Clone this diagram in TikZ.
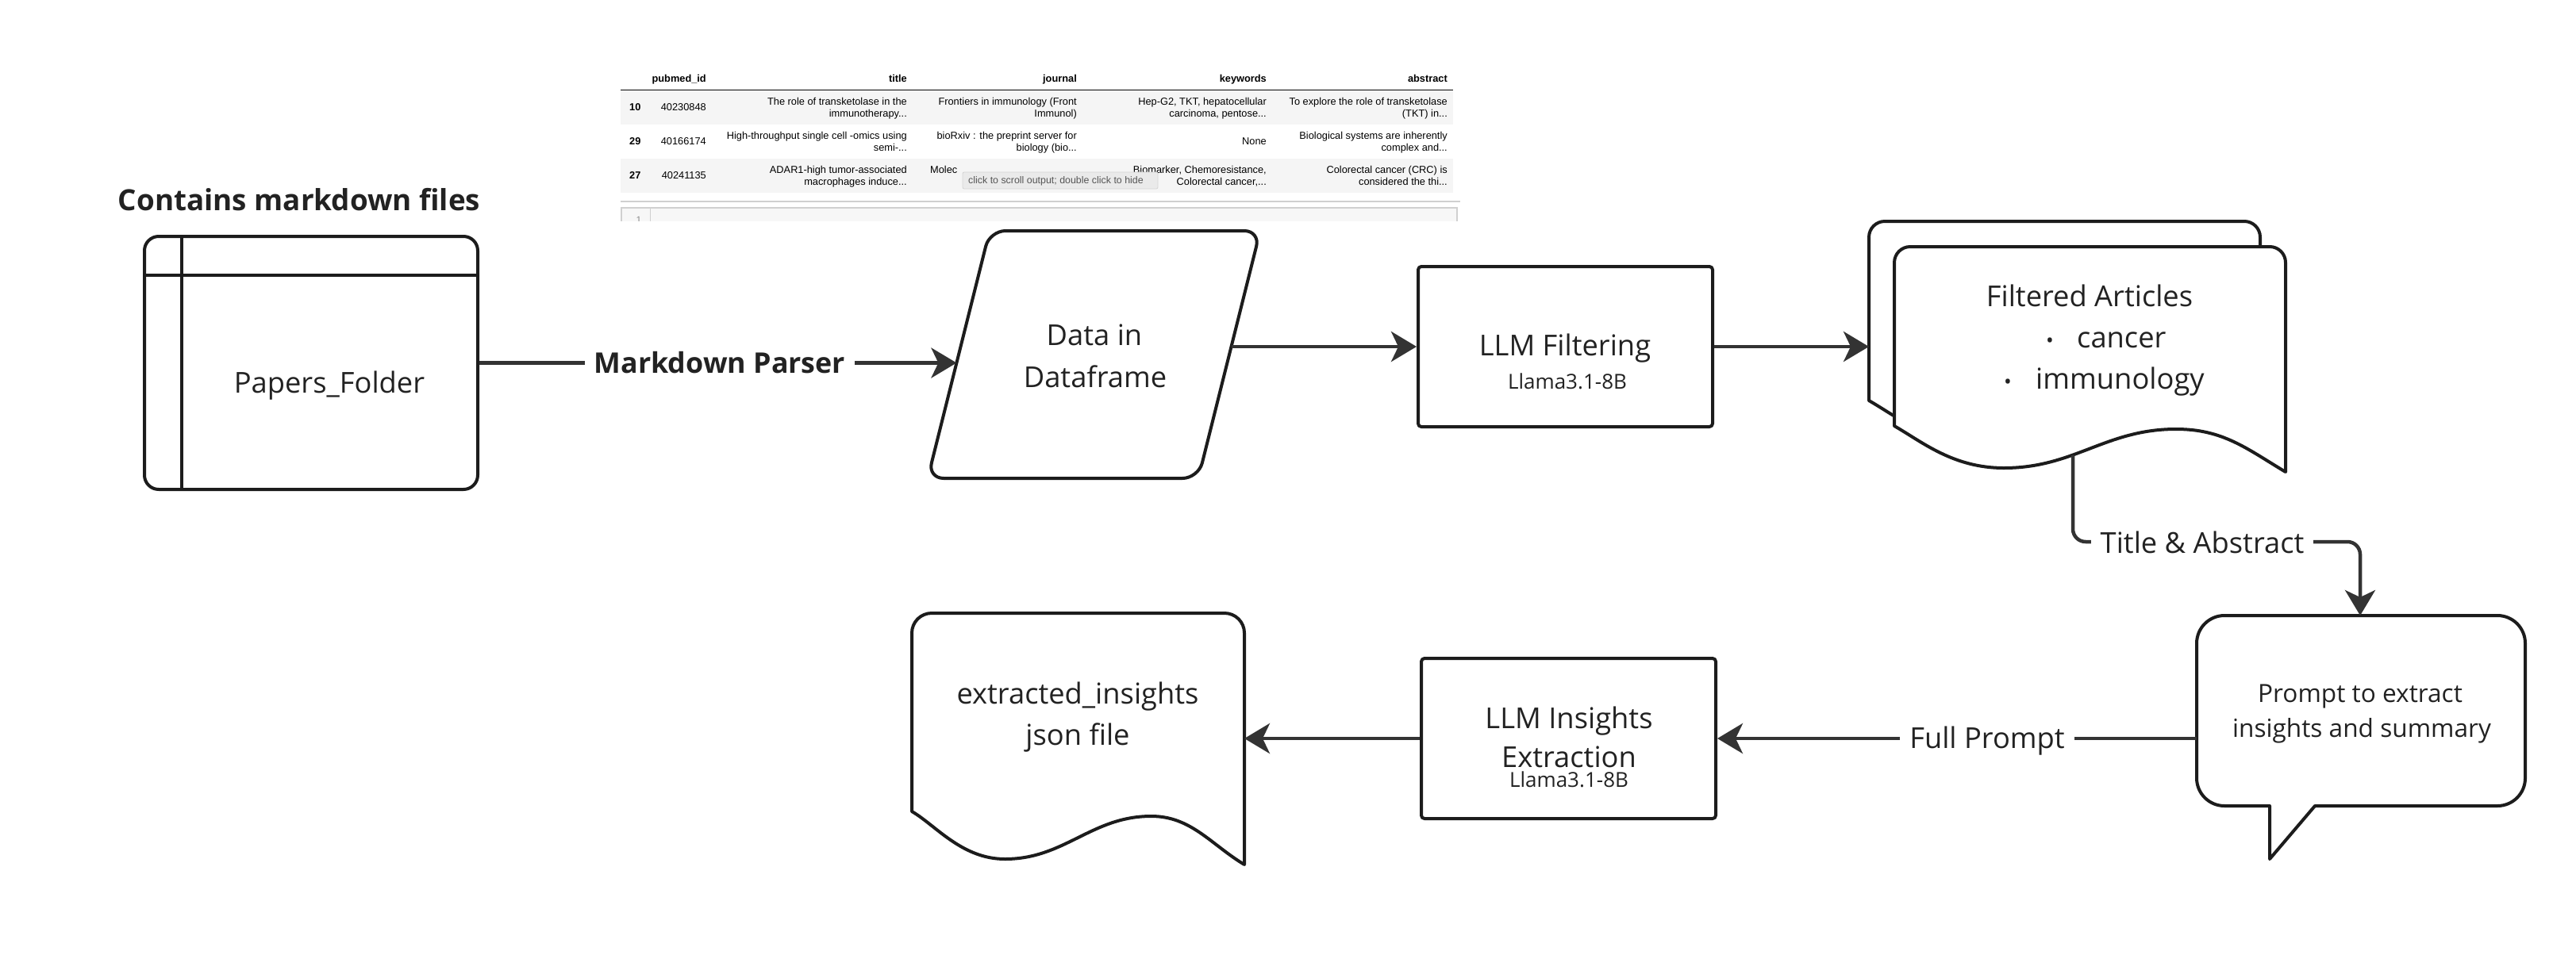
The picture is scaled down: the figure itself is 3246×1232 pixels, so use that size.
\documentclass[tikz,border=0pt]{standalone}
\usepackage{fontspec}
\setmainfont{Open Sans}
\newfontfamily\tabfont{Liberation Sans}
\usetikzlibrary{arrows.meta}
\definecolor{txt}{RGB}{34,34,34}
\definecolor{bord}{RGB}{28,28,28}
\definecolor{conncol}{RGB}{51,51,51}
\definecolor{rowgray}{RGB}{245,245,245}
\definecolor{sepgray}{RGB}{208,208,208}
\definecolor{cellgray}{RGB}{247,247,247}
\definecolor{tipfill}{RGB}{234,234,234}
\definecolor{tipbord}{RGB}{212,212,212}
\definecolor{tiptext}{RGB}{85,85,85}
% document shape: x y W H A E d r
\newcommand\docshape[8]{%
 \filldraw[shapeline] ({#1},{#2+#4}) -- ({#1},{#2+#8})
   .. controls ({#1},{#2+0.448*#8}) and ({#1+0.448*#8},{#2}) .. ({#1+#8},{#2})
   -- ({#1+#3-#8},{#2})
   .. controls ({#1+#3-0.448*#8},{#2}) and ({#1+#3},{#2+0.448*#8}) .. ({#1+#3},{#2+#8})
   -- ({#1+#3},{#2+#4+#6})
   .. controls ({#1+0.90*#3},{#2+#4+#6-0.06*#3}) and ({#1+0.84*#3},{#2+#4+#7}) .. ({#1+0.72*#3},{#2+#4+#7})
   .. controls ({#1+0.54*#3},{#2+#4+#7}) and ({#1+0.46*#3},{#2+#4+#5}) .. ({#1+0.28*#3},{#2+#4+#5})
   .. controls ({#1+0.15*#3},{#2+#4+#5}) and ({#1+0.07*#3},{#2+#4+0.04*#3}) .. ({#1},{#2+#4}) -- cycle;}
\begin{document}
\begin{tikzpicture}[x=1pt,y=-1pt,
  shapeline/.style={draw=bord, line width=4pt, fill=white, line join=round},
  procbox/.style={shapeline, rectangle, rounded corners=4pt, inner sep=0pt},
  connector/.style={draw=conncol, line width=4.5pt, -{Stealth[length=32pt,width=38pt,inset=9pt]}},
  maintext/.style={font=\fontsize{36.3}{42}\selectfont, text=txt, inner sep=0pt},
  subtext/.style={font=\fontsize{26}{30}\selectfont, text=txt, inner sep=0pt},
  prompttext/.style={font=\fontsize{31.6}{36}\selectfont, text=txt, inner sep=0pt},
  boldtext/.style={font=\fontsize{36.8}{42}\selectfont\bfseries, text=txt, inner sep=0pt},
  lbl/.style={maintext, fill=white, inner xsep=12pt, inner ysep=4pt},
  lblbold/.style={font=\fontsize{35.8}{42}\selectfont\bfseries, text=txt, fill=white, inner xsep=12pt, inner ysep=4pt},
  tabtxt/.style={font=\tabfont\fontsize{12.8}{15}\selectfont, text=black, inner sep=0pt},
  tabhead/.style={font=\tabfont\fontsize{12.8}{15}\selectfont\bfseries, text=black, inner sep=0pt},
]
\fill[white] (0,0) rectangle (3246,1232);
\useasboundingbox (0,0) rectangle (3246,1232);

% ---------------- table screenshot ----------------
\fill[rowgray] (782,114.5) rectangle (1831,157);
\fill[rowgray] (782,200) rectangle (1831,243);
\draw[black, line width=1.5pt] (782,113.5) -- (1831,113.5);
\node[tabhead, anchor=base east] (hpid) at (890,103) {pubmed\_id};
\node[tabhead, anchor=base east] (htit) at (1143,103) {title};
\node[tabhead, anchor=base east] (hjou) at (1357,103) {journal};
\node[tabhead, anchor=base east] (hkey) at (1596,103) {keywords};
\node[tabhead, anchor=base east] (habs) at (1824,103) {abstract};
% row 10
\node[tabhead, anchor=base west] (i10) at (793,139.5) {10};
\node[tabtxt, anchor=base east] (p10) at (890,139.5) {40230848};
\node[tabtxt, anchor=base east] (t10a) at (1143,132) {The role of transketolase in the};
\node[tabtxt, anchor=base east] (t10b) at (1143,147) {immunotherapy...};
\node[tabtxt, anchor=base east] (j10a) at (1357,132) {Frontiers in immunology (Front};
\node[tabtxt, anchor=base east] (j10b) at (1357,147) {Immunol)};
\node[tabtxt, anchor=base east] (k10a) at (1596,132) {Hep-G2, TKT, hepatocellular};
\node[tabtxt, anchor=base east] (k10b) at (1596,147) {carcinoma, pentose...};
\node[tabtxt, anchor=base east] (a10a) at (1824,132) {To explore the role of transketolase};
\node[tabtxt, anchor=base east] (a10b) at (1824,147) {(TKT) in...};
% row 29
\node[tabhead, anchor=base west] (i29) at (793,182.5) {29};
\node[tabtxt, anchor=base east] (p29) at (890,182.5) {40166174};
\node[tabtxt, anchor=base east] (t29a) at (1143,175) {High-throughput single cell -omics using};
\node[tabtxt, anchor=base east] (t29b) at (1143,190) {semi-...};
\node[tabtxt, anchor=base east] (j29a) at (1357,175) {bioRxiv : the preprint server for};
\node[tabtxt, anchor=base east] (j29b) at (1357,190) {biology (bio...};
\node[tabtxt, anchor=base east] (k29) at (1596,182.5) {None};
\node[tabtxt, anchor=base east] (a29a) at (1824,175) {Biological systems are inherently};
\node[tabtxt, anchor=base east] (a29b) at (1824,190) {complex and...};
% row 27
\node[tabhead, anchor=base west] (i27) at (793,225.5) {27};
\node[tabtxt, anchor=base east] (p27) at (890,225.5) {40241135};
\node[tabtxt, anchor=base east] (t27a) at (1143,218) {ADAR1-high tumor-associated};
\node[tabtxt, anchor=base east] (t27b) at (1143,233) {macrophages induce...};
\node[tabtxt, anchor=base west] (j27a) at (1172,218) {Molec};
\node[tabtxt, anchor=base east] (k27a) at (1596,218) {Biomarker, Chemoresistance,};
\node[tabtxt, anchor=base east] (k27b) at (1596,233) {Colorectal cancer,...};
\node[tabtxt, anchor=base east] (a27a) at (1824,218) {Colorectal cancer (CRC) is};
\node[tabtxt, anchor=base east] (a27b) at (1824,233) {considered the thi...};
% tooltip
\filldraw[fill=tipfill, draw=tipbord, line width=0.8pt, rounded corners=2pt] (1213,217) rectangle (1459,238);
\node[font=\tabfont\fontsize{12.4}{14}\selectfont, text=tiptext, inner sep=0pt, anchor=base west] (tip) at (1220,231.5) {click to scroll output; double click to hide};
% separator and input cell
\draw[sepgray, line width=2pt] (782,254) -- (1840,254);
\begin{scope}
  \clip (770,258) rectangle (1850,278.5);
  \filldraw[fill=cellgray, draw=sepgray, line width=1.3pt] (783,262) rectangle (1836,300);
  \draw[sepgray, line width=1pt] (819,262) -- (819,300);
  \node[font=\tabfont\fontsize{12}{14}\selectfont, text=black!45, inner sep=0pt, anchor=base] (cellno) at (805,281) {1};
\end{scope}

% ---------------- flow shapes ----------------
\node[boldtext, anchor=base] (cmf) at (377,265) {Contains markdown files};

\node[procbox, minimum width=420pt, minimum height=319pt, rounded corners=18pt] (pf) at (392,457.5) {};
\draw[bord, line width=4pt] (182,347) -- (602,347);
\draw[bord, line width=4pt] (229,298) -- (229,617);
\node[maintext, anchor=base] (pft) at (415,495) {Papers\_Folder};

% parallelogram
\filldraw[shapeline, rounded corners=20pt] (1400,291) -- (1588,291) -- (1510,603) -- (1169,603) -- (1247,291) -- cycle;
\coordinate (dfin) at (1205.4,457.5);
\coordinate (dfout) at (1551.5,437);
\node[maintext, anchor=base] (dft1) at (1379,435) {Data in};
\node[maintext, anchor=base] (dft2) at (1380,488) {Dataframe};

% LLM filtering
\node[procbox, minimum width=371pt, minimum height=202pt] (llmf) at (1972.5,437) {};
\node[maintext, anchor=base] (llmft) at (1972,448) {LLM Filtering};
\node[subtext, anchor=base] (llmfs) at (1975,490) {Llama3.1-8B};

% filtered articles (multi document)
\docshape{2355}{279}{493}{226}{53}{58}{4}{20}
\docshape{2387}{311}{493}{226}{53}{58}{4}{20}
\coordinate (fbin) at (2355,437);
\coordinate (fbout) at (2612,574);
\node[maintext, anchor=base] (fat) at (2633,386) {Filtered Articles};
\node[subtext, anchor=base] (fab1) at (2583,438) {•};
\node[maintext, anchor=base west] (fac) at (2617,438) {cancer};
\node[subtext, anchor=base] (fab2) at (2530,490) {•};
\node[maintext, anchor=base west] (fai) at (2565,490) {immunology};

% speech bubble
\filldraw[shapeline] (2850,776) -- (3147,776)
  .. controls (3166.3,776) and (3182,791.7) .. (3182,811) -- (3182,981)
  .. controls (3182,1000.3) and (3166.3,1016) .. (3147,1016) -- (2917,1016)
  -- (2860,1083) -- (2860,1016) -- (2803,1016)
  .. controls (2783.7,1016) and (2768,1000.3) .. (2768,981) -- (2768,811)
  .. controls (2768,791.7) and (2783.7,776) .. (2803,776) -- cycle;
\coordinate (bubtop) at (2974,776);
\coordinate (bubwest) at (2768,931);
\coordinate (tamid) at (2800,683);
\node[prompttext, anchor=base] (bt1) at (2974,885) {Prompt to extract};
\node[prompttext, anchor=base] (bt2) at (2976,929) {insights and summary};

% LLM insights extraction
\node[procbox, minimum width=371pt, minimum height=202pt] (llmi) at (1976.5,931) {};
\node[maintext, anchor=base] (llmit1) at (1977,918) {LLM Insights};
\node[maintext, anchor=base] (llmit2) at (1977,967) {Extraction};
\node[subtext, anchor=base] (llmis) at (1977,992) {Llama3.1-8B};

% extracted insights document
\docshape{1149}{773}{419}{250}{60}{67}{6}{25}
\coordinate (edin) at (1568,931);
\node[maintext, anchor=base] (edt1) at (1358,887) {extracted\_insights};
\node[maintext, anchor=base] (edt2) at (1358,939) {json file};

% ---------------- connectors ----------------
\draw[connector] (pf.east) -- (dfin);
\draw[connector] (dfout) -- (llmf.west);
\draw[connector] (llmf.east) -- (fbin);
\draw[connector, rounded corners=16pt] (fbout) |- (tamid) -| (bubtop);
\draw[connector] (bubwest) -- (llmi.east);
\draw[connector] (llmi.west) -- (edin);

% labels
\node[lblbold, anchor=base] (mdp) at (907,470) {Markdown Parser};
\node[lbl, anchor=base] (tal) at (2775,697) {Title \& Abstract};
\node[lbl, anchor=base] (fpl) at (2504,943) {Full Prompt};
\end{tikzpicture}
\end{document}
